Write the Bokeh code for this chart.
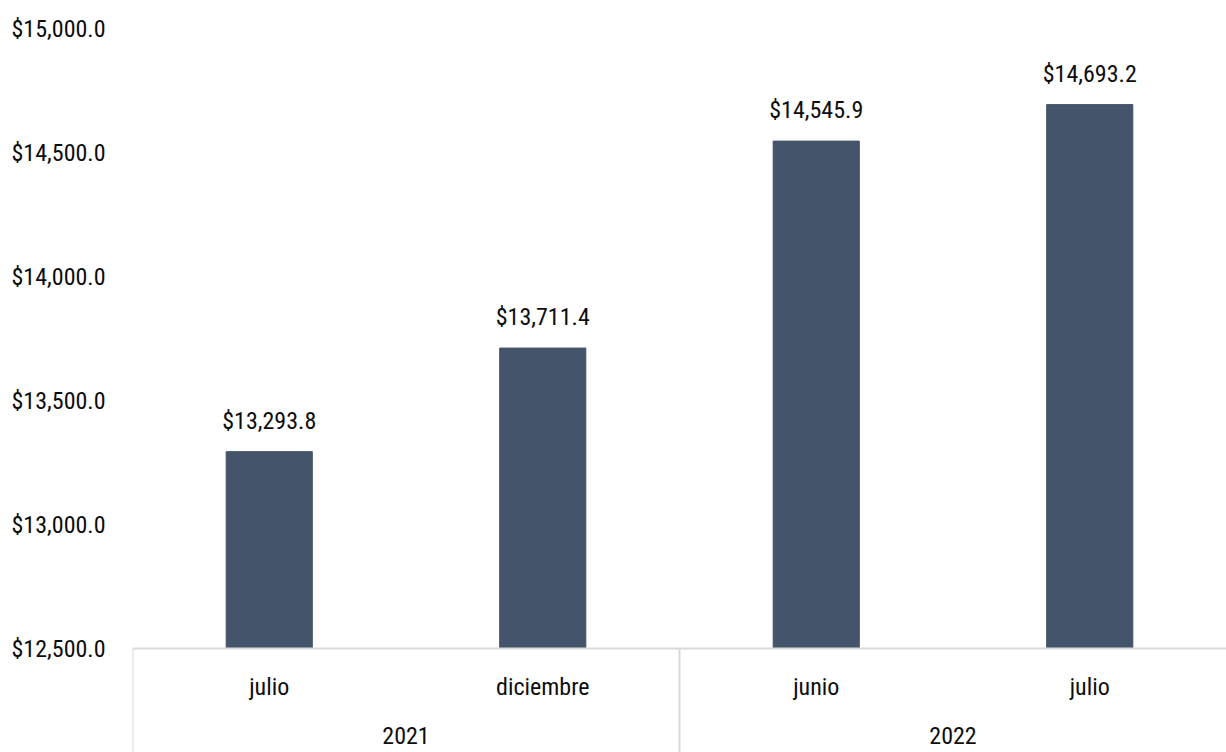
from bokeh.plotting import figure
from bokeh.models import FactorRange, Range1d, FixedTicker, NumeralTickFormatter, ColumnDataSource
from bokeh.core.properties import value
from bokeh.embed import file_html
from bokeh.resources import INLINE

years = ["2021", "2021", "2022", "2022"]
months = ["julio", "diciembre", "junio", "julio"]
amounts = [13293.8, 13711.4, 14545.9, 14693.2]
y_ticks = [12500, 13000, 13500, 14000, 14500, 15000]
group_names = ["2021", "2022"]

FONT = "Roboto Condensed, DejaVu Sans Condensed, Liberation Sans Narrow, Roboto"
FS = "24px"
BAR = "#44546A"
LINE = "#D9D9D9"
TXT = "#0d0d0d"

factors = list(zip(years, months))
labels = ["${:,.1f}".format(v) for v in amounts]

W, H = 1226, 752
PX = 500 / 124.0   # data units per pixel
base = y_ticks[0]
y_top = base + 648 * PX
y_bot = base - 104 * PX

p = figure(width=W, height=H, output_backend="svg", toolbar_location=None,
           x_range=FactorRange(*factors, factor_padding=0, group_padding=0, range_padding=0),
           y_range=Range1d(y_bot, y_top), x_axis_location=None,
           min_border_left=132, min_border_right=0, min_border_top=0, min_border_bottom=0)
p.outline_line_color = None
p.xgrid.visible = False
p.ygrid.visible = False
p.background_fill_color = "white"
p.border_fill_color = "white"

ax = p.yaxis[0]
ax.ticker = FixedTicker(ticks=y_ticks)
ax.formatter = NumeralTickFormatter(format="$0,0.0")
ax.axis_line_color = None
ax.major_tick_line_color = None
ax.minor_tick_line_color = None
ax.major_label_standoff = 21
ax.major_label_text_font = FONT
ax.major_label_text_font_size = FS
ax.major_label_text_color = TXT

src = ColumnDataSource(dict(x=factors, top=amounts, label=labels, month=months))
p.vbar(x="x", top="top", bottom=base, width=0.315, source=src, color=BAR)
p.text(x="x", y="top", text="label", source=src, y_offset=-31,
       text_align="center", text_baseline="middle",
       text_font=value(FONT), text_font_size=FS, text_color=TXT)

# category table lines
p.segment(x0=[(years[0], months[0], -0.5)], x1=[(years[-1], months[-1], 0.5)],
          y0=[base], y1=[base], line_color=LINE, line_width=2)
p.segment(x0=[(years[0], months[0], -0.5), (years[1], months[1], 0.5)],
          x1=[(years[0], months[0], -0.5), (years[1], months[1], 0.5)],
          y0=[base, base], y1=[y_bot, y_bot], line_color=LINE, line_width=2)

p.text(x="x", y=base - 38 * PX, text="month", source=src,
       text_align="center", text_baseline="middle",
       text_font=value(FONT), text_font_size=FS, text_color=TXT)
p.text(x=group_names, y=[base - 87 * PX] * len(group_names), text=group_names,
       text_align="center", text_baseline="middle",
       text_font=value(FONT), text_font_size=FS, text_color=TXT)

open("out.html", "w").write(file_html(p, INLINE))
